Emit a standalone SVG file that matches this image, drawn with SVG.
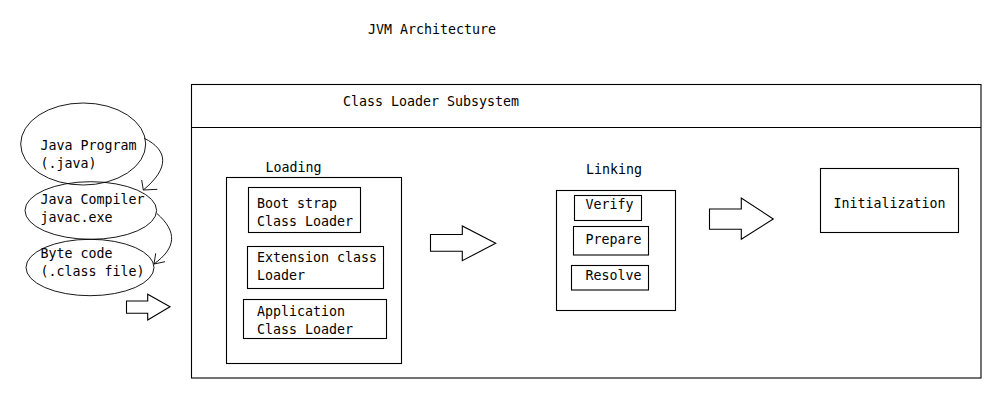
<svg xmlns="http://www.w3.org/2000/svg" width="1007" height="402" viewBox="0 0 1007 402">
<style>
text{font-family:"DejaVu Sans Mono","Liberation Mono",monospace;font-size:13.3px;fill:#000}
.b{fill:none;stroke:#000;stroke-width:1.1}
.t{fill:none;stroke:#000;stroke-width:0.9}
</style>
<rect width="1007" height="402" fill="#fff"/>
<text x="368" y="34">JVM Architecture</text>
<g id="subsystem">
<rect class="b" x="191.5" y="84.5" width="789.5" height="293.5"/>
<line class="b" x1="191.5" y1="127.5" x2="981" y2="127.5"/>
<text x="343" y="106">Class Loader Subsystem</text>
</g>
<g id="java-program">
<ellipse class="t" cx="83.2" cy="144" rx="62.5" ry="41"/>
<text x="40.5" y="149.5">Java Program</text>
<text x="40.5" y="167.5">(.java)</text>
</g>
<g id="java-compiler">
<ellipse class="t" cx="90.8" cy="210.5" rx="65.8" ry="28.8"/>
<text x="40.5" y="204.3">Java Compiler</text>
<text x="40.5" y="221.7">javac.exe</text>
</g>
<g id="byte-code">
<ellipse class="t" cx="90" cy="267.5" rx="64" ry="28.2"/>
<text x="40.5" y="257.7">Byte code</text>
<text x="40.5" y="275.7">(.class file)</text>
</g>
<g id="loading">
<text x="265.5" y="172">Loading</text>
<rect class="b" x="226.5" y="177.5" width="175" height="186"/>
</g>
<g id="bootstrap">
<rect class="b" x="248.5" y="187.5" width="112" height="45"/>
<text x="257" y="208">Boot strap</text>
<text x="257" y="226">Class Loader</text>
</g>
<g id="extension">
<rect class="b" x="247.5" y="246.5" width="136" height="42"/>
<text x="257" y="262">Extension class</text>
<text x="257" y="279.5">Loader</text>
</g>
<g id="application">
<rect class="b" x="243.5" y="299.5" width="143" height="39"/>
<text x="257" y="316">Application</text>
<text x="257" y="333.5">Class Loader</text>
</g>
<g id="linking">
<text x="586" y="173.5">Linking</text>
<rect class="b" x="556.5" y="190.5" width="119" height="120"/>
</g>
<g id="verify">
<rect class="b" x="574.5" y="195.5" width="67" height="25"/>
<text x="585.5" y="208.5">Verify</text>
</g>
<g id="prepare">
<rect class="b" x="573.5" y="226.5" width="75" height="28.5"/>
<text x="585.5" y="243.5">Prepare</text>
</g>
<g id="resolve">
<rect class="b" x="571.5" y="265.5" width="77" height="24.5"/>
<text x="585.5" y="280">Resolve</text>
</g>
<g id="initialization">
<rect class="b" x="820.5" y="168.5" width="138" height="64"/>
<text x="833.5" y="208">Initialization</text>
</g>
<g id="connectors">
<path class="t" d="M144.3,138.3 C168,150 170,168 143.3,190"/>
<path class="t" d="M141.7,180 L143.3,190 L157.3,189.3"/>
<path class="t" d="M156.7,213.3 C178,232 176,248 154,264"/>
<path class="t" d="M155.7,253.3 L154,264 L165,261.7"/>
<path class="b" d="M126.5,301 H147.7 V294.3 L170,306.7 L147.7,320 V313.3 H126.5 Z"/>
<path class="b" d="M430.5,234.5 H462.3 V226 L495.7,243.3 L462.3,260.7 V251.3 H430.5 Z"/>
<path class="b" d="M709.5,209 H741.3 V198 L773.3,219 L741.3,239.3 V229.3 H709.5 Z"/>
</g>
</svg>
